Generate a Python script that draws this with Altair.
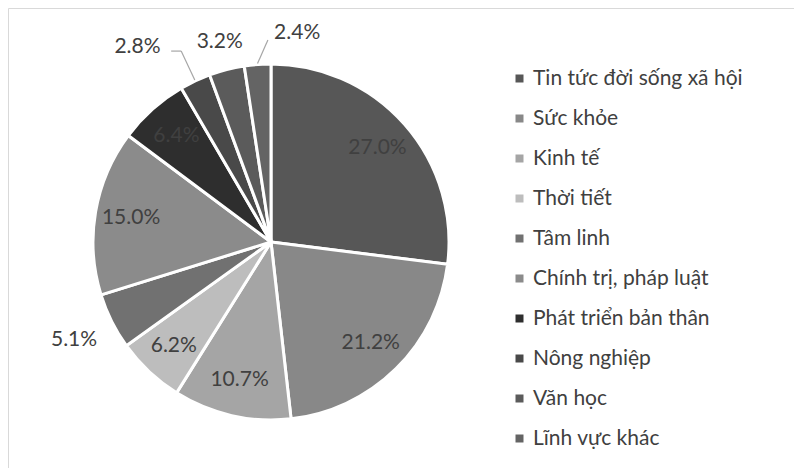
import altair as alt
import pandas as pd

categories = ["Tin tức đời sống xã hội", "Sức khỏe", "Kinh tế", "Thời tiết", "Tâm linh",
              "Chính trị, pháp luật", "Phát triển bản thân", "Nông nghiệp", "Văn học", "Lĩnh vực khác"]
values = [27.0, 21.2, 10.7, 6.2, 5.1, 15.0, 6.4, 2.8, 3.2, 2.4]
labels = ["27.0%", "21.2%", "10.7%", "6.2%", "5.1%", "15.0%", "6.4%", "2.8%", "3.2%", "2.4%"]
colors = ["#575757", "#888888", "#a5a5a5", "#bdbdbd", "#717171",
          "#8b8b8b", "#2e2e2e", "#494949", "#5b5b5b", "#646464"]

df = pd.DataFrame({"category": categories, "value": values, "label": labels,
                   "order": list(range(len(values)))})

CX, CY, R = 263, 234, 178
FONT = "Lato"
FS = 21
TXT = "#404040"
LEAD = "#a6a6a6"

base = alt.Chart(df)

pie = base.mark_arc(outerRadius=R, stroke="white", strokeWidth=3).encode(
    theta=alt.Theta("value:Q", stack=True),
    order=alt.Order("order:Q"),
    color=alt.Color("category:N",
                    scale=alt.Scale(domain=categories, range=colors),
                    legend=alt.Legend(orient="none", legendX=501, legendY=60, title=None,
                                      symbolType="square", symbolSize=64, symbolStrokeWidth=0,
                                      labelFont=FONT, labelFontSize=FS, labelColor=TXT,
                                      labelOffset=3, rowPadding=18, padding=0, labelLimit=320)),
    x=alt.value(CX), y=alt.value(CY),
)


def polar(cats):
    return base.transform_joinaggregate(total="sum(value)").transform_window(
        cum="sum(value)", sort=[alt.SortField("order")], frame=[None, 0]
    ).transform_calculate(
        mid="(datum.cum - datum.value / 2) / datum.total * 2 * PI"
    ).transform_filter(alt.FieldOneOfPredicate(field="category", oneOf=cats))


def text_layer(cats, radius, dx=0):
    return polar(cats).transform_calculate(
        px=f"{CX} + {radius} * sin(datum.mid) + {dx}",
        py=f"{CY} - {radius} * cos(datum.mid)",
    ).mark_text(font=FONT, fontSize=FS, color=TXT, align="center", baseline="middle").encode(
        x=alt.X("px:Q", scale=None, axis=None),
        y=alt.Y("py:Q", scale=None, axis=None),
        text="label:N",
    )


inside = text_layer(["Tin tức đời sống xã hội", "Sức khỏe", "Kinh tế", "Thời tiết",
                     "Chính trị, pháp luật", "Phát triển bản thân"], 142)
out51 = text_layer(["Tâm linh"], 220)
out32 = text_layer(["Văn học"], 206)
out28 = text_layer(["Nông nghiệp"], 215, -42)
out24 = text_layer(["Lĩnh vực khác"], 210, 42)


def rule_layer(cats, r0, r1, dang=0.0, dx_end=None):
    if dx_end is None:
        calc = dict(
            ax=f"{CX} + {r0} * sin(datum.mid)", ay=f"{CY} - {r0} * cos(datum.mid)",
            bx=f"{CX} + {r1} * sin(datum.mid + {dang})", by=f"{CY} - {r1} * cos(datum.mid + {dang})",
        )
    else:
        calc = dict(
            ax=f"{CX} + {r0} * sin(datum.mid)", ay=f"{CY} - {r0} * cos(datum.mid)",
            bx=f"{CX} + {r0} * sin(datum.mid) + {dx_end}", by=f"{CY} - {r0} * cos(datum.mid)",
        )
    return polar(cats).transform_calculate(**calc).mark_rule(color=LEAD, strokeWidth=1.2).encode(
        x=alt.X("ax:Q", scale=None, axis=None), y=alt.Y("ay:Q", scale=None, axis=None),
        x2="bx:Q", y2="by:Q",
    )


lead28a = rule_layer(["Nông nghiệp"], R + 1, 211)
lead28b = rule_layer(["Nông nghiệp"], 211, 0, dx_end=-10)
lead24 = rule_layer(["Lĩnh vực khác"], R + 1, 202, dang=0.06)

chart = alt.layer(pie, inside, out51, out32, out28, out24, lead28a, lead28b, lead24).properties(
    width=786, height=460, padding=0, autosize="none",
    background="white",
).configure_view(stroke="#d9d9d9", strokeWidth=1)

chart.save("out.html", embed_options={"renderer": "svg", "actions": False})
